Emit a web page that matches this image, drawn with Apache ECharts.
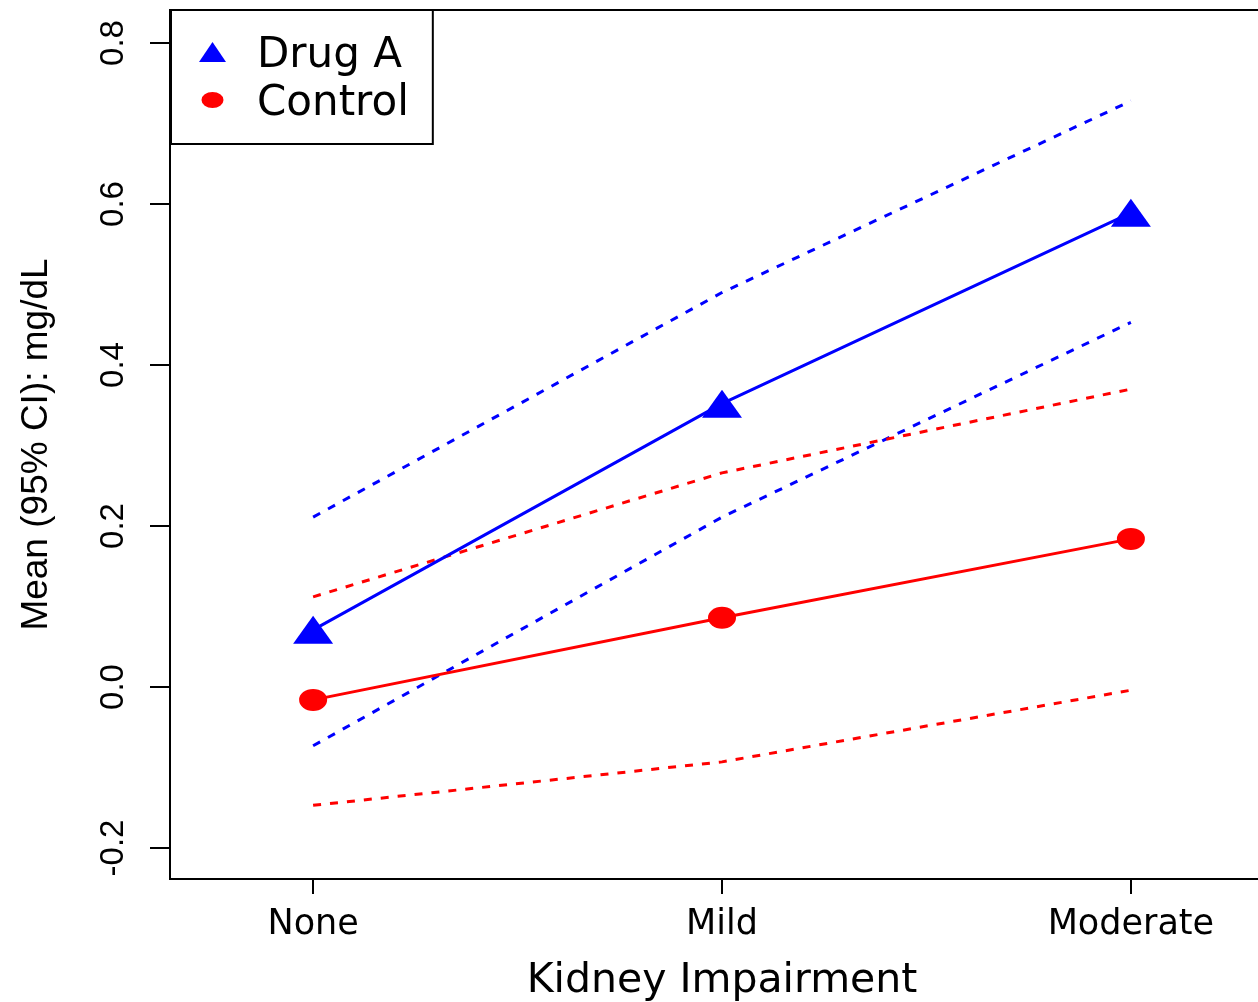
<!DOCTYPE html>
<html>
<head>
<meta charset="utf-8">
<script src="https://cdn.jsdelivr.net/npm/echarts@6/dist/echarts.min.js"></script>
<style>html,body{margin:0;padding:0;background:#fff;}#c{width:1258px;height:1002px;}</style>
</head>
<body>
<div id="c"></div>
<script>
var categories = ['None', 'Mild', 'Moderate'];
var yTicks = [-0.2, 0.0, 0.2, 0.4, 0.6, 0.8];
var drugMean = [0.071, 0.352, 0.589];
var drugUpper = [0.211, 0.490, 0.728];
var drugLower = [-0.073, 0.211, 0.453];
var ctrlMean = [-0.016, 0.086, 0.184];
var ctrlUpper = [0.112, 0.266, 0.370];
var ctrlLower = [-0.147, -0.093, -0.004];

function pts(arr) { return categories.map(function (c, i) { return [i + 1, arr[i]]; }); }
var catTicks = categories.map(function (c, i) { return i + 1; });

var BLUE = '#0000FF', RED = '#FF0000';
function ciSeries(name, arr, color) {
  return {
    name: name, type: 'line', data: pts(arr), symbol: 'none', silent: true,
    lineStyle: { color: color, width: 3, type: [8, 9] }, z: 2
  };
}
// legend icons: visible shape in the upper part, invisible points widen the box downward
var legendTri = 'path://M0,20 L13.5,0 L27,20 Z M0,28';
var legendCirc = 'path://M0,0 M27,28 M2.5,10 A11,8 0 1 1 24.5,10 A11,8 0 1 1 2.5,10 Z';

var chart = echarts.init(document.getElementById('c'), null, { renderer: 'canvas' });
chart.setOption({
  animation: false,
  backgroundColor: '#ffffff',
  grid: { left: 170, right: -16, top: 10, bottom: 123, outerBoundsMode: 'none', containLabel: false,
    show: true, borderColor: '#000', borderWidth: 2, backgroundColor: 'transparent' },
  xAxis: {
    type: 'value', min: 0.65, max: 3.35,
    splitLine: { show: false },
    axisLine: { show: true, onZero: false, lineStyle: { color: '#000', width: 2 } },
    axisTick: { show: true, customValues: catTicks, length: 15, inside: false, lineStyle: { color: '#000', width: 2 } },
    axisLabel: { customValues: catTicks, margin: 28, color: '#000', fontFamily: 'DejaVu Sans', fontSize: 35,
      formatter: function (v) { return categories[Math.round(v) - 1] || ''; } },
    name: 'Kidney Impairment', nameLocation: 'middle', nameGap: 82,
    nameTextStyle: { color: '#000', fontFamily: 'DejaVu Sans', fontSize: 41 }
  },
  yAxis: {
    type: 'value', min: -0.2385, max: 0.841,
    splitLine: { show: false },
    axisLine: { show: true, onZero: false, lineStyle: { color: '#000', width: 2 } },
    axisTick: { show: true, customValues: yTicks, length: 20, inside: false, lineStyle: { color: '#000', width: 2 } },
    axisLabel: { customValues: yTicks, rotate: 90, margin: 40, color: '#000', fontFamily: 'Liberation Sans', fontSize: 33,
      formatter: function (v) { return v.toFixed(1); } },
    name: 'Mean (95% CI): mg/dL', nameLocation: 'middle', nameGap: 115, nameRotate: 90,
    nameTextStyle: { color: '#000', fontFamily: 'Liberation Sans', fontSize: 37 }
  },
  legend: {
    left: 171, top: 10, orient: 'vertical',
    backgroundColor: '#fff', borderColor: '#000', borderWidth: 2,
    padding: [22, 24, 16, 28],
    itemWidth: 27, itemHeight: 28, itemGap: 0,
    textStyle: { color: '#000', fontFamily: 'DejaVu Sans', fontSize: 42, lineHeight: 48, padding: [0, 0, 0, 26] },
    data: [{ name: 'Drug A', icon: legendTri }, { name: 'Control', icon: legendCirc }],
    z: 10
  },
  series: [
    ciSeries('Drug A upper', drugUpper, BLUE),
    ciSeries('Drug A lower', drugLower, BLUE),
    ciSeries('Control upper', ctrlUpper, RED),
    ciSeries('Control lower', ctrlLower, RED),
    { name: 'Drug A', type: 'line', data: pts(drugMean), symbol: 'triangle', symbolSize: [40, 28],
      itemStyle: { color: BLUE }, lineStyle: { color: BLUE, width: 3 }, z: 3 },
    { name: 'Control', type: 'line', data: pts(ctrlMean), symbol: 'circle', symbolSize: [28, 22],
      itemStyle: { color: RED }, lineStyle: { color: RED, width: 3 }, z: 3 }
  ]
});
</script>
</body>
</html>
